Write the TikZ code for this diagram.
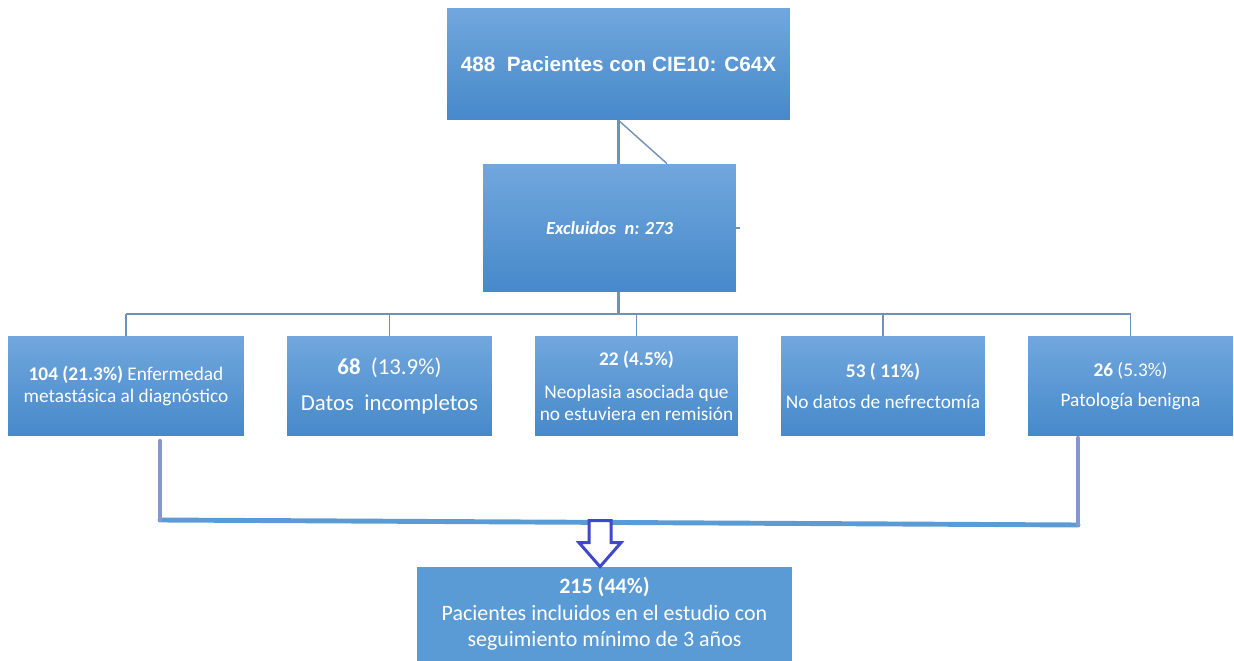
\documentclass[tikz,border=0pt]{standalone}
\usepackage{fontspec}
\setmainfont{Carlito}
\newfontfamily\arialfont{Liberation Sans}
\usetikzlibrary{calc}
\definecolor{boxtop}{RGB}{113,167,221}
\definecolor{boxbot}{RGB}{70,137,202}
\definecolor{boxflat}{RGB}{91,155,213}
\definecolor{linkgray}{RGB}{112,146,186}
\definecolor{lavender}{RGB}{133,151,206}
\definecolor{arrowblue}{RGB}{63,72,204}
\tikzset{
  flowbox/.style={top color=boxtop, bottom color=boxbot, text=white, align=center,
    inner sep=0pt, minimum height=2cm, font=\fontsize{11}{12.5}\selectfont},
  link/.style={draw=linkgray, line width=0.8pt},
  bracket/.style={line width=2.4pt, line cap=round},
  hollowarrow/.style={draw=arrowblue, fill=white, line width=1.7pt, line join=miter}
}
\begin{document}
\begin{tikzpicture}[x=0.02cm,y=-0.02cm]
    \useasboundingbox (0,0) rectangle (1234,661);% fix the margins
    % boxes
    \node[flowbox, minimum width=6.86cm, minimum height=2.24cm,
          font=\arialfont\bfseries\fontsize{11.8}{14}\selectfont] (total) at (618.5,64)
          {488\ \ Pacientes con CIE10: C64X};
    \node[flowbox, minimum width=5.06cm, minimum height=2.56cm,
          font=\bfseries\itshape\fontsize{10.5}{12}\selectfont] (excl) at (609.5,228)
          {Excluidos\ \ n: 273};
    \node[flowbox, minimum width=4.72cm] (meta) at (126,386)
          {\textbf{104 (21.3\%)} Enfermedad\\metastásica al diagnóstico};
    \node[flowbox, minimum width=4.10cm, font=\fontsize{13}{15}\selectfont] (datos) at (389.5,386)
          {\textbf{68}\ \ (13.9\%)\\[5pt]Datos\ \ incompletos};
    \node[flowbox, minimum width=4.06cm] (neo) at (636.5,386)
          {\textbf{22 (4.5\%)}\\[6pt]Neoplasia asociada que\\no estuviera en remisión};
    \node[flowbox, minimum width=4.08cm] (nefr) at (883,386)
          {\textbf{53 ( 11\%)}\\[5pt]No datos de nefrectomía};
    \node[flowbox, minimum width=4.10cm] (benig) at (1130.5,386)
          {\textbf{26} (5.3\%)\\[5pt]Patología benigna};
    \node[flowbox, fill=boxflat, top color=boxflat, bottom color=boxflat, minimum width=7.5cm,
          minimum height=1.88cm, font=\fontsize{12.5}{15}\selectfont] (incl) at (604.5,614)
          {\textbf{215 (44\%)}\\Pacientes incluidos en el estudio con\\seguimiento mínimo de 3 años};
    % links from the top
    \draw[link, line width=1.6pt] (total.south) -- (total.south |- excl.north);
    \draw[link] (total.south) -- ($(excl.north)+(57.5,0)$);% thin slanted line
    \draw[link] (excl.east) -- ++(4,0);
    \coordinate (bus) at (618.5,314);
    \draw[link, line width=1.2pt] (total.south |- excl.south) -- (bus);
    \draw[link] (meta.north |- bus) -- (benig.north |- bus);% the bus
    \foreach \b in {meta,datos,neo,nefr,benig}
        \draw[link] (\b.north |- bus) -- (\b.north);
    % bracket to the included patients
    \coordinate (lt) at (160,441);
    \coordinate (lb) at (160,520);
    \coordinate (rt) at (1078,438);
    \coordinate (rb) at (1078,525);
    \draw[bracket, boxflat, line width=2.8pt] (lb) -- (rb);
    \draw[bracket, lavender] (lt) -- (lb);
    \draw[bracket, lavender] (rt) -- (rb);
    \draw[hollowarrow] ($(incl.north)+(-4.5,0)$) -- ++(21,-24) -- ++(-10,0) -- ++(0,-22)
          -- ++(-22,0) -- ++(0,22) -- ++(-10,0) -- cycle;% hollow arrow
\end{tikzpicture}
\end{document}
